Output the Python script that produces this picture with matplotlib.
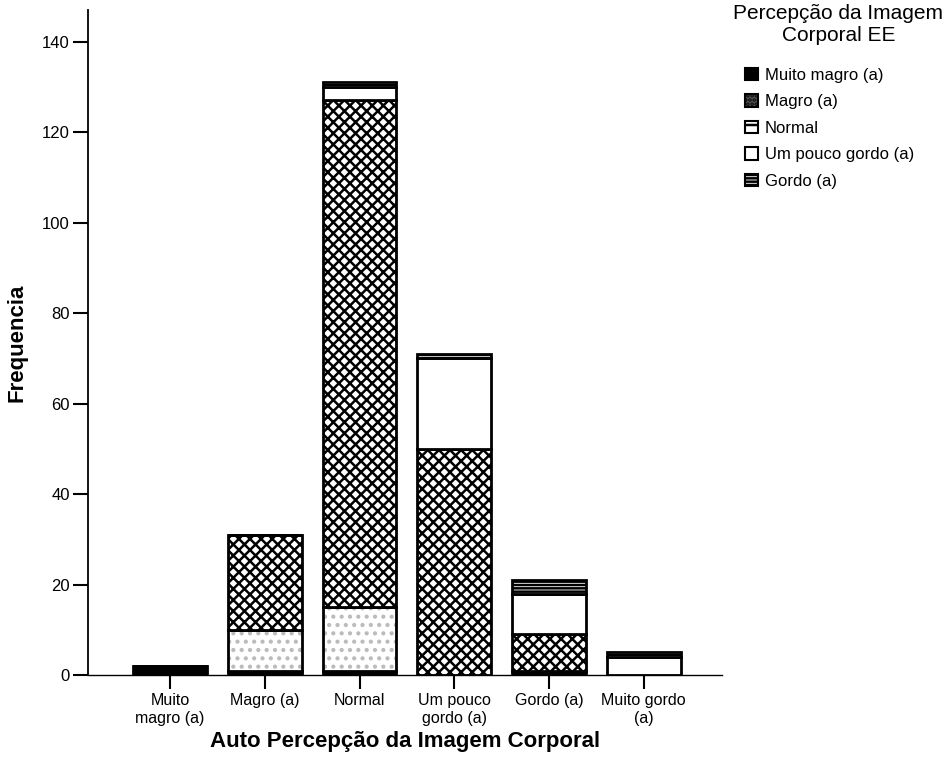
import matplotlib.pyplot as plt
import matplotlib
from matplotlib.patches import Patch
import numpy as np

matplotlib.rcParams['font.family'] = ['Liberation Sans', 'DejaVu Sans']
matplotlib.rcParams['hatch.linewidth'] = 1.8

categories = ["Muito\nmagro (a)", "Magro (a)", "Normal", "Um pouco\ngordo (a)",
              "Gordo (a)", "Muito gordo\n(a)"]
series = ["Muito magro (a)", "Magro (a)", "Normal", "Um pouco gordo (a)", "Gordo (a)"]

# frequencies per x category, one list per legend series
muito_magro = [2, 1, 1, 0, 1, 0]
magro = [0, 9, 14, 0, 0, 0]
normal = [0, 21, 112, 50, 8, 0]
um_pouco_gordo = [0, 0, 3, 20, 9, 4]
gordo = [0, 0, 1, 1, 3, 1]
values = [muito_magro, magro, normal, um_pouco_gordo, gordo]

# (face, hatch colour, hatch)
styles = [("black", "black", None),
          ("white", "#bbbbbb", ".."),
          ("white", "black", "xxx"),
          ("white", "black", None),
          ("white", "black", "-----")]

fig = plt.figure(figsize=(9.44, 7.68), dpi=100)
ax = fig.add_axes([0.093, 0.121, 0.672, 0.866])

x = np.arange(len(categories))
width = 0.78
bottom = np.zeros(len(categories))
for vals, (face, hcol, hatch) in zip(values, styles):
    vals = np.array(vals, dtype=float)
    ax.bar(x, vals, width, bottom=bottom, color=face, edgecolor=hcol,
           hatch=hatch, linewidth=0)
    ax.bar(x, vals, width, bottom=bottom, fill=False, edgecolor="black",
           linewidth=2)
    bottom += vals

ax.set_xlim(-0.87, 5.83)
ax.set_ylim(0, 147)
ax.set_yticks(range(0, 141, 20))
ax.set_xticks(x)
ax.set_xticklabels(categories, fontsize=11.5)
ax.tick_params(axis='y', labelsize=12, length=11, width=1.5, pad=2)
ax.tick_params(axis='x', length=10, width=1.5, pad=3)
for s in ["top", "right"]:
    ax.spines[s].set_visible(False)
ax.spines["left"].set_linewidth(1.3)
ax.spines["bottom"].set_linewidth(1.0)

ax.set_ylabel("Frequencia", fontsize=16, fontweight="bold", labelpad=10)
ax.set_xlabel("Auto Percepção da Imagem Corporal", fontsize=16,
              fontweight="bold", labelpad=4)

handles = []
for name, (face, hcol, hatch) in zip(series, styles):
    if name == "Magro (a)":
        handles.append(Patch(facecolor="#555555", edgecolor="black", hatch="....",
                             linewidth=1.5, label=name))
    elif name == "Normal":
        handles.append(Patch(facecolor="white", edgecolor="black", hatch="+",
                             linewidth=1.5, label=name))
    else:
        handles.append(Patch(facecolor=face, edgecolor="black", hatch=hatch,
                             linewidth=1.5, label=name))

fig.text(0.888, 0.995, "Percepção da Imagem\nCorporal EE", ha="center", va="top",
         fontsize=15, multialignment="center", linespacing=1.2)
fig.legend(handles=handles, loc="upper left", bbox_to_anchor=(0.789, 0.912),
           frameon=False, fontsize=12, handlelength=0.8, handleheight=0.8,
           handletextpad=0.4, labelspacing=0.68, borderaxespad=0, borderpad=0)

fig.savefig("out.png", dpi=100)
